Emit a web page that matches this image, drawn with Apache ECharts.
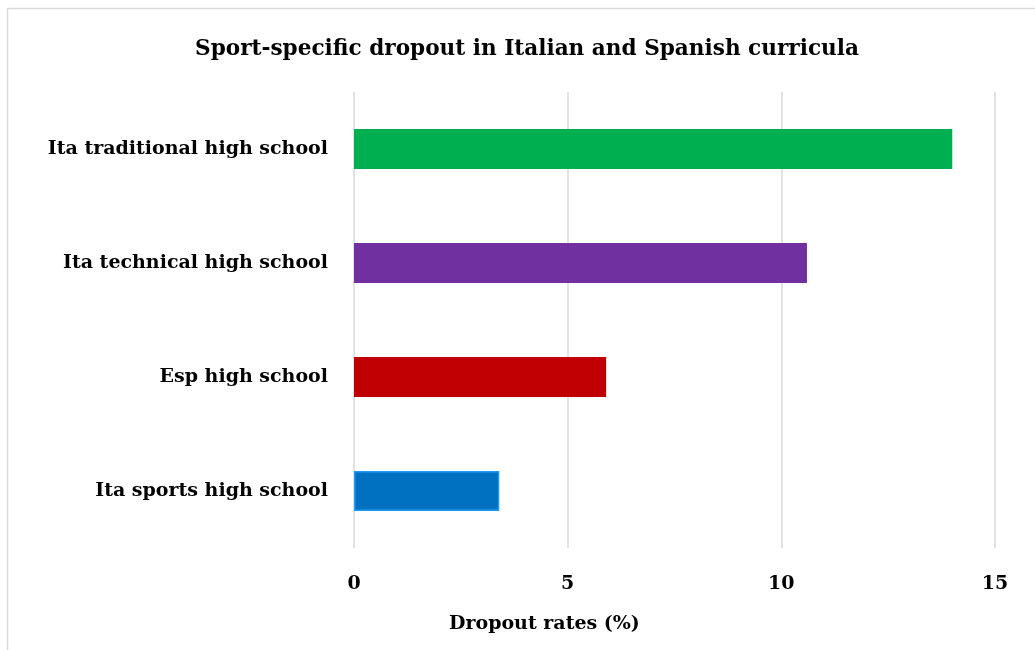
<!DOCTYPE html>
<html>
<head>
<meta charset="utf-8">
<script src="https://cdn.jsdelivr.net/npm/echarts@6/dist/echarts.min.js"></script>
<style>
  html, body { margin: 0; padding: 0; background: #fff; }
  #chart { width: 1035px; height: 650px; }
</style>
</head>
<body>
<div id="chart"></div>
<script>
// 分类（从下到上）
var categories = ['Ita sports high school', 'Esp high school', 'Ita technical high school', 'Ita traditional high school'];
var dropoutRates = [3.4, 5.9, 10.6, 14.0];
var barColors = ['#0070C0', '#C00000', '#7030A0', '#00B050'];
var xTicks = [0, 5, 10, 15];

var fontFam = '"DejaVu Serif", "Liberation Serif", serif';

var myChart = echarts.init(document.getElementById('chart'));

var barData = dropoutRates.map(function(v, i) {
  var item = { value: v, itemStyle: { color: barColors[i] } };
  // 蓝色条带浅色描边
  if (i == 0) {
    item.itemStyle.borderColor = '#1A9BFF';
    item.itemStyle.borderWidth = 1.5;
  }
  return item;
});

myChart.setOption({
  animation: false,
  backgroundColor: '#fff',
  title: {
    text: 'Sport-specific dropout in Italian and Spanish curricula',
    left: 522,
    top: 33,
    textAlign: 'center',
    textStyle: { fontFamily: fontFam, fontWeight: 'bold', fontSize: 21.6, color: '#000' }
  },
  graphic: [
    {
      type: 'rect',
      shape: { x: 7.5, y: 8.5, width: 1060, height: 700 },
      style: { fill: 'none', stroke: '#d9d9d9', lineWidth: 1.5 },
      silent: true
    },
    {
      type: 'text',
      left: 449,
      top: 615,
      style: {
        text: 'Dropout rates (%)',
        fontFamily: fontFam, fontWeight: 'bold', fontSize: 19, fill: '#000'
      }
    }
  ],
  grid: { left: 354, right: 40, top: 92, bottom: 102 },
  xAxis: {
    type: 'value',
    min: xTicks[0],
    max: xTicks[xTicks.length - 1],
    interval: 5,
    axisLine: { show: false },
    axisTick: { show: false },
    axisLabel: {
      margin: 27,
      fontFamily: fontFam, fontWeight: 'bold', fontSize: 19, color: '#000'
    },
    splitLine: { show: true, lineStyle: { color: '#d9d9d9', width: 1.5 } }
  },
  yAxis: {
    type: 'category',
    data: categories,
    axisLine: { show: false },
    axisTick: { show: false },
    axisLabel: {
      margin: 26,
      fontFamily: fontFam, fontWeight: 'bold', fontSize: 19, color: '#000'
    }
  },
  series: [{
    type: 'bar',
    data: barData,
    barWidth: 40
  }]
});
</script>
</body>
</html>
